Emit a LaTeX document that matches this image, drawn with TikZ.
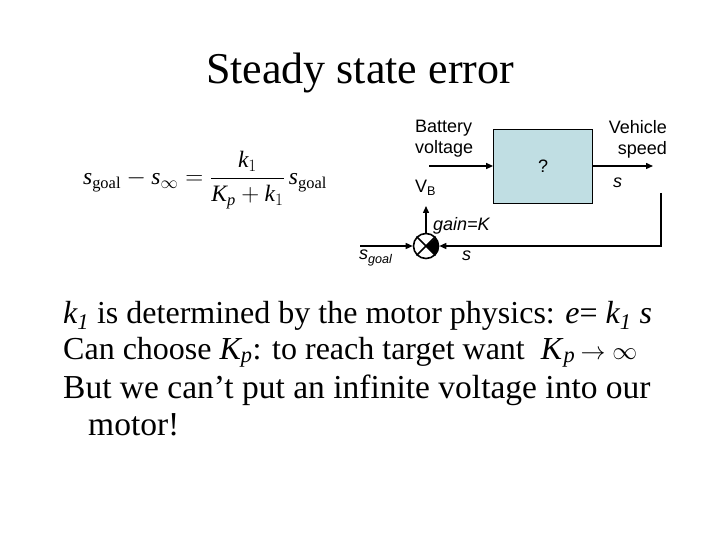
\documentclass[tikz,border=0pt]{standalone}
\usepackage{amsmath}
\usepackage{fontspec}
\setmainfont{Liberation Serif}
\setsansfont{Liberation Sans}
\setmathrm{Liberation Serif}
\usetikzlibrary{positioning,arrows.meta}
\definecolor{boxfill}{HTML}{C0DEE3}
\newcommand{\vi}[1]{\textit{#1}}

\begin{document}
\begin{tikzpicture}[x=1pt,y=-1pt,
          lbl/.style={font=\sffamily\fontsize{18}{21}\selectfont, inner sep=0pt},
          body/.style={font=\fontsize{32}{36}\selectfont, inner sep=0pt, anchor=base west},
          sig/.style={-{Triangle[length=7pt,width=6pt]}, line width=1.4pt}]
        \useasboundingbox[fill=white] (0,0) rectangle (720,540);
        \node[font=\fontsize{44}{50}\selectfont, anchor=base] (title) at (360,84) {Steady state error};
        % error formula
        \node[font=\fontsize{23.5}{27}\selectfont] (err) at (205,180)
          {$\vi{s}_{\text{goal}} - \vi{s}_{\infty} = \dfrac{\vi{k}_{1}}{\vi{K}_{\vi{p}} + \vi{k}_{1}}\,\vi{s}_{\text{goal}}$};
        % block diagram
        \node[draw, fill=boxfill, line width=0.8pt, minimum width=99pt, minimum height=74pt,
              lbl] (plant) at (543,166) {?};
        \coordinate (vin) at (429,166);
        \coordinate (vout) at (653,166);
        \draw[sig] (vin) -- (plant);
        \draw[sig] (plant) -- (vout);
        \node[lbl, anchor=north west, align=left] (batt) at (415,120) {Battery\\voltage};
        \node[lbl, anchor=north east, align=right] (speed) at (667,120) {Vehicle\\speed};
        \node[lbl, anchor=west] (vb) at (415,188) {V\textsubscript{B}};
        \node[lbl, anchor=west] (sout) at (613,183) {\vi{s}};
        \node[circle, draw, line width=1.6pt, minimum size=25pt, inner sep=0pt] (sum) at (426,246) {};
        \fill (sum.center) -- (sum.-45) arc[start angle=45, end angle=-45, radius=12.5] -- cycle;
        \draw[line width=1.6pt] (sum.45) -- (sum.225) (sum.135) -- (sum.315);
        \coordinate (fb) at (661,193);
        \coordinate (goal) at (360,246);
        \coordinate (up) at (426,206);
        \draw[sig] (fb) |- (sum);
        \draw[sig] (goal) -- (sum);
        \draw[sig] (sum) -- (up);
        \node[lbl, anchor=west] (gain) at (433,226) {\vi{gain=K}};
        \node[lbl, anchor=west] (sfb) at (462,256) {\vi{s}};
        \node[lbl, anchor=west] (sgoal) at (359,258) {\vi{s}\textsubscript{\vi{goal}}};
        % text
        \node[body] (line1) at (63,323)
          {\vi{k\textsubscript{1}} is determined by the motor physics: \vi{e}= \vi{k\textsubscript{1} s}};
        \node[body] (line2) at (63,359)
          {Can choose \vi{K\textsubscript{p}}: to reach target want\hspace{16pt}\vi{K}\textsubscript{\vi{p}}\,$\rightarrow\infty$};
        \node[body, font=\fontsize{33.5}{36}\selectfont] (line3) at (63,398) {But we can’t put an infinite voltage into our};
        \node[body, font=\fontsize{33.5}{36}\selectfont] (line4) at (88,435) {motor!};
      \end{tikzpicture}
\end{document}
